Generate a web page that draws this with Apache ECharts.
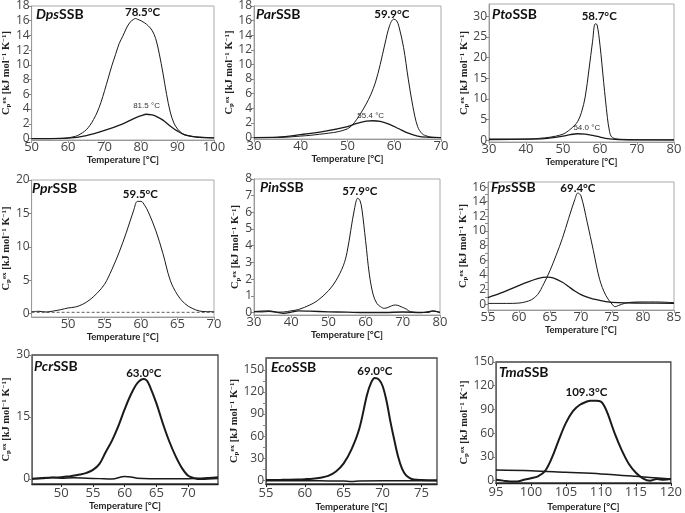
<!DOCTYPE html>
<html><head><meta charset="utf-8">
<script src="https://cdn.jsdelivr.net/npm/echarts@6/dist/echarts.min.js"></script>
<style>html,body{margin:0;padding:0;background:#fff}#c{width:685px;height:513px}</style>
</head><body><div id="c"></div><script>
// ---------- DATA ----------
const dpsT1 = [50,55,58,60,62,63,64,65,66,67,68,69,70,71,72,73,74,75,76,77,78,78.5,79,80,81,82,83,84,85,86,87,88,89,90,91,92,94,96,100];
const dpsC1 = [0,0,0.02,0.1,0.3,0.5,0.8,1.2,1.8,2.6,3.6,4.9,6.5,8.2,9.9,11.4,12.9,13.9,15.0,15.8,16.2,16.3,16.2,16.0,15.7,15.3,14.7,13.6,11.5,8.9,6.0,3.6,2.1,1.3,0.8,0.5,0.3,0.2,0.1];
const dpsT2 = [50,55,60,65,70,75,78,80,81.5,83,84,86,88,90,92,95,100];
const dpsC2 = [0,0,0.05,0.4,1.1,2.0,2.7,3.1,3.3,3.2,3.05,2.5,1.7,1.0,0.5,0.2,0.1];

const parT1 = [30,35,38,40,42,44,46,48,50,51,52,53,54,55,56,57,58,59,59.9,60.5,61,62,63,64,65,66,67,68,70];
const parC1 = [0,0,0.1,0.2,0.3,0.45,0.6,0.8,1.2,1.7,2.5,3.5,4.6,5.9,7.6,10.0,12.8,15.3,16.2,16.0,15.2,12.3,8.0,4.2,1.5,0.5,0.2,0.05,0];
const parT2 = [30,35,40,45,50,52,54,55.4,57,59,61,63,65,67,70];
const parC2 = [0,0.05,0.4,0.85,1.5,1.95,2.25,2.3,2.2,1.8,1.2,0.6,0.2,0.05,0];

const ptoT1 = [30,40,45,48,50,51,52,53,54,55,56,57,58,58.7,59.2,60,61,62,62.5,63,64,66,70,80];
const ptoC1 = [0.3,0.3,0.6,1.0,1.5,2.0,2.7,3.5,4.6,6.8,10.5,17,24,28.2,28,23,14,5.5,2.5,1.0,0.4,0.2,0.15,0.1];
const ptoT2 = [30,40,45,50,52,54,56,58,60,62,65,70,80];
const ptoC2 = [0.2,0.3,0.4,1.0,1.4,1.6,1.5,1.2,0.8,0.4,0.2,0.1,0.1];

const pprT1 = [45,46,47,48,49,50,51,52,53,54,55,56,57,58,59,59.5,60,60.5,61,62,63,64,65,66,67,68,69,70];
const pprC1 = [0.3,0.35,0.25,0.4,0.6,0.85,1.0,1.4,2.1,3.1,4.4,6.6,9.2,12.2,15.5,16.8,16.8,16.2,15.2,12.5,9.0,5.0,2.8,1.5,0.8,0.4,0.3,0.3];
const pprBaseT = [45,70];
const pprBaseC = [0.2,0.2];

const pinT1 = [30,32,34,36,38,40,42,45,47,50,52,54,55,56,57,57.9,58.5,59,60,61,62,63,64,65,66,67,68,69,70,71,72,74,77,78,80];
const pinC1 = [0.05,0.03,0.06,0.02,0.03,0.1,0.18,0.45,0.7,1.3,1.9,2.8,3.6,4.9,6.2,6.85,6.7,6.2,4.3,2.3,1.1,0.55,0.35,0.25,0.3,0.4,0.45,0.4,0.3,0.2,0.05,0,0,0.1,0];
const pinT2 = [30,32,34,36,38,40,42,45,50,55,60,65,70,75,78,80];
const pinC2 = [0.05,0.08,0.1,0.02,-0.05,0.02,0.1,0.08,0.04,0.02,0,0,0.03,0,0.08,0];

const fpsT1 = [55,58,60,61,62,63,64,65,66,67,68,69,69.5,70,71,72,73,74,75,75.5,76,77,78,80,82,85];
const fpsC1 = [0.1,0.1,0.15,0.3,0.6,1.3,2.8,4.6,6.7,9.0,11.7,14.3,15.2,14.8,11.2,7.3,3.4,1.2,0.0,-0.35,-0.2,0.1,0.25,0.3,0.3,0.2];
const fpsT2 = [55,57,59,61,63,64.5,65.5,67,68,69,70,71,72,74,76,80,85];
const fpsC2 = [0.9,1.5,2.2,2.9,3.5,3.7,3.6,3.0,2.4,1.8,1.3,0.95,0.7,0.35,0.2,0.15,0.1];

const pcrT1 = [45.4,48,50,51,52,53,54,55,56,57,58,59,60,61,62,63,63.5,64,65,66,67,68,69,70,71,72,74.7];
const pcrC1 = [0.1,0.3,0.45,0.6,0.85,1.1,1.5,2.2,3.6,6.5,9.3,12.8,16.9,20.5,23.2,24.2,23.8,22.3,18.3,13.5,9.2,5.6,2.7,0.8,0.2,0,0.2];
const pcrT2 = [45.4,47,48.5,50,52,54,56,58,60,61,62,64,66,68,70,72,74.7];
const pcrC2 = [0,0.1,0.4,0.2,0.3,0.2,0.1,0,0.6,0.5,0.2,0.1,0.1,0.1,0.1,0.2,0.5];

const ecoT1 = [55,57,59,60,61,62,63,64,65,66,67,68,68.5,69,69.5,70,70.5,71,71.5,72,72.5,73,73.5,74,75,77];
const ecoC1 = [0.3,0.6,1.2,1.6,2.2,3.5,6.0,12,23,42,70,116,132,139,137,128,108,80,55,32,16,7,3,1,0.3,0];
const ecoT2 = [55,60,63,65,66,67,70,77];
const ecoC2 = [-0.5,-0.5,-0.8,-1,-1.5,-0.8,-0.5,-0.5];

const tmaT1 = [95,96,97,98,99,100,101,102,103,104,105,106,107,108,108.5,109.3,110,110.5,111,112,113,114,115,116,117,118,119,120];
const tmaC1 = [1,0,-1,-1,1,3,5.5,12,29,52,73,88,96,100,101,101,100,94,84,59,38,21,10,3,0,2,1,2];
const tmaT2 = [95,100,105,110,115,117,120];
const tmaC2 = [13.3,12.5,10.5,8.5,5.5,4,2];

const proteinNames = ['Dps','Par','Pto','Ppr','Pin','Fps','Pcr','Eco','Tma'];
const peakLabels = ['78.5°C','59.9°C','58.7°C','59.5°C','57.9°C','69.4°C','63.0°C','69.0°C','109.3°C'];
const secondLabels = ['81.5 °C','55.4 °C','54.0 °C',null,null,null,null,null,null];
// tick label steps: [first label, last label, step]
const xTicks = [[50,100,10],[30,70,10],[30,80,10],[50,70,5],[30,80,10],[55,85,5],[50,70,5],[55,75,5],[95,120,5]];
const yTicks = [[0,18,2],[0,18,2],[0,30,5],[0,20,5],[0,8,1],[0,16,2],[0,30,15],[0,150,30],[0,150,30]];

// ---------- LAYOUT ----------
const zip = (t, v) => t.map((x, i) => [x, v[i]]);
const steps = (a, b, s) => { const r = []; for (let v = a; v <= b + 1e-9; v += s) r.push(Math.round(v * 1000) / 1000); return r; };
const P = [
  {g:[29,4,185,136],  x:[50,100], y:[-0.2,18], main:[dpsT1,dpsC1], sec:[dpsT2,dpsC2], pk:[7,-6], sk:[0,-8], nm:[36,7], yGap:15, xGap:10, row:1},
  {g:[254,4,187,135], x:[30,70],  y:[-0.2,18], main:[parT1,parC1], sec:[parT2,parC2], pk:[-2,-5], sk:[-2,-5], nm:[256,7], yGap:12, xGap:12, row:1},
  {g:[489,4,185,138], x:[30,80],  y:[-0.4,33], main:[ptoT1,ptoC1], sec:[ptoT2,ptoC2], pk:[4,-8], sk:[9,-6], nm:[492,7], yGap:14.5, xGap:12, row:1},
  {g:[29,180,185,137], x:[45,70], y:[-0.5,20], main:[pprT1,pprC1], base:[pprBaseT,pprBaseC], pk:[3,-7], nm:[32,181], yGap:16, xGap:13, row:2},
  {g:[254,179,186,136], x:[30,80], y:[-0.15,8], main:[pinT1,pinC1], sec:[pinT2,pinC2], pk:[2,-7], nm:[260,180], yGap:10.5, xGap:14, row:2},
  {g:[488,182,186,128], x:[55,85], y:[-0.8,16.7], main:[fpsT1,fpsC1], sec:[fpsT2,fpsC2], pk:[0,-5], nm:[491,180], yGap:15, xGap:13, minorY:2, row:2},
  {g:[32,355,186,129], x:[45.4,74.7], y:[-1.2,30], main:[pcrT1,pcrC1], sec:[pcrT2,pcrC2], pk:[0,-6], nm:[34,359], yGap:20, xGap:16, row:3},
  {g:[266,358,171,127], x:[55,77], y:[-5,166], main:[ecoT1,ecoC1], sec:[ecoT2,ecoC2], pk:[0,-7], nm:[271,360], yGap:19.5, xGap:18, minorY:2, row:3},
  {g:[496,362,178,122], x:[95,120], y:[-3,150], main:[tmaT1,tmaC1], sec:[tmaT2,tmaC2], pk:[-4,-8], nm:[499,365], yGap:26.5, xGap:19, row:3}
];

const yName = '{c|C}{sb|p}{sp|ex}{c| [kJ mol}{sp|−1}{c| K}{sp|−1}{c|]}';
const serif = 'Liberation Serif';
const yRich = {
  c: {fontFamily: serif, fontWeight: 'bold', fontSize: 10.5, color: '#222'},
  sb: {fontFamily: serif, fontWeight: 'bold', fontSize: 7, color: '#222', verticalAlign: 'bottom'},
  sp: {fontFamily: serif, fontWeight: 'bold', fontSize: 7, color: '#222', verticalAlign: 'top'}
};

const grid = [], xAxis = [], yAxis = [], series = [], title = [];
P.forEach((p, i) => {
  const r3 = p.row === 3;
  const xt = xTicks[i], yt = yTicks[i];
  const xVals = steps(xt[0], xt[1], xt[2]);
  const yVals = steps(yt[0], yt[1], yt[2]);
  const yTickVals = p.minorY ? steps(yt[0], yt[1], yt[2] / p.minorY) : yVals;
  grid.push({left: p.g[0], top: p.g[1], width: p.g[2], height: p.g[3], show: true,
    borderColor: r3 ? '#444' : '#aaa', borderWidth: r3 ? 1.3 : 1, backgroundColor: 'transparent'});
  xAxis.push({type: 'value', gridIndex: i, min: p.x[0], max: p.x[1],
    name: 'Temperature [°C]', nameLocation: 'middle', nameGap: p.xGap,
    nameTextStyle: {fontFamily: 'Lato', fontWeight: 'bold', fontSize: 9.5, color: '#222'},
    axisLine: {onZero: false, lineStyle: {color: r3 ? '#222' : '#999', width: r3 ? 1.3 : 1}},
    axisTick: {show: true, length: 3, customValues: xVals, lineStyle: {color: r3 ? '#222' : '#999'}},
    axisLabel: {customValues: xVals, fontFamily: 'Open Sans', fontSize: 13, color: '#444', margin: r3 ? 3 : 1},
    splitLine: {show: false}});
  yAxis.push({type: 'value', gridIndex: i, min: p.y[0], max: p.y[1],
    name: yName, nameLocation: 'middle', nameGap: p.yGap, nameTextStyle: {rich: yRich},
    axisLine: {onZero: false, lineStyle: {color: r3 ? '#666' : '#999', width: 1}},
    axisTick: {show: true, length: 3, customValues: yTickVals, lineStyle: {color: '#888'}},
    axisLabel: {customValues: yVals, fontFamily: 'Open Sans', fontSize: 12, color: '#444', margin: 2},
    splitLine: {show: false}});

  const mainData = zip(p.main[0], p.main[1]);
  let pkI = 0; mainData.forEach((d, k) => { if (d[1] > mainData[pkI][1]) pkI = k; });
  const lw = r3 ? 2 : 1;
  series.push({type: 'line', xAxisIndex: i, yAxisIndex: i, data: mainData, smooth: 0.35, symbol: 'none',
    lineStyle: {color: '#1a1a1a', width: lw}, z: 3,
    markPoint: {symbol: 'circle', symbolSize: 1, itemStyle: {color: 'rgba(0,0,0,0)'}, animation: false,
      data: [{coord: mainData[pkI], value: peakLabels[i]}],
      label: {show: true, position: 'inside', offset: p.pk, formatter: peakLabels[i],
        fontFamily: 'Lato', fontWeight: 'bold', fontSize: 11.5, color: '#111'}}});
  if (p.sec) {
    const secData = zip(p.sec[0], p.sec[1]);
    let sI = 0; secData.forEach((d, k) => { if (d[1] > secData[sI][1]) sI = k; });
    const s = {type: 'line', xAxisIndex: i, yAxisIndex: i, data: secData, smooth: 0.35, symbol: 'none',
      lineStyle: {color: '#1a1a1a', width: r3 ? 1.5 : 1.3}, z: 2};
    if (secondLabels[i]) {
      s.markPoint = {symbol: 'circle', symbolSize: 1, itemStyle: {color: 'rgba(0,0,0,0)'}, animation: false,
        data: [{coord: secData[sI], value: secondLabels[i]}],
        label: {show: true, position: 'inside', offset: p.sk, formatter: secondLabels[i],
          fontFamily: 'Liberation Sans', fontSize: 8, color: '#333'}};
    }
    series.push(s);
  }
  if (p.base) {
    series.push({type: 'line', xAxisIndex: i, yAxisIndex: i, data: zip(p.base[0], p.base[1]), symbol: 'none',
      lineStyle: {color: '#333', width: 0.8, type: [3, 2]}, z: 2});
  }
  title.push({text: '{i|' + proteinNames[i] + '}{b|SSB}', left: p.nm[0], top: p.nm[1], padding: 0,
    textStyle: {rich: {
      i: {fontFamily: 'Lato', fontStyle: 'italic', fontWeight: 'bold', fontSize: 14, color: '#111'},
      b: {fontFamily: 'Lato', fontWeight: 'bold', fontSize: 14, color: '#111'}}}});
});

const chart = echarts.init(document.getElementById('c'), null, {renderer: 'canvas'});
chart.setOption({animation: false, backgroundColor: '#fff', title, grid, xAxis, yAxis, series});
</script></body></html>
